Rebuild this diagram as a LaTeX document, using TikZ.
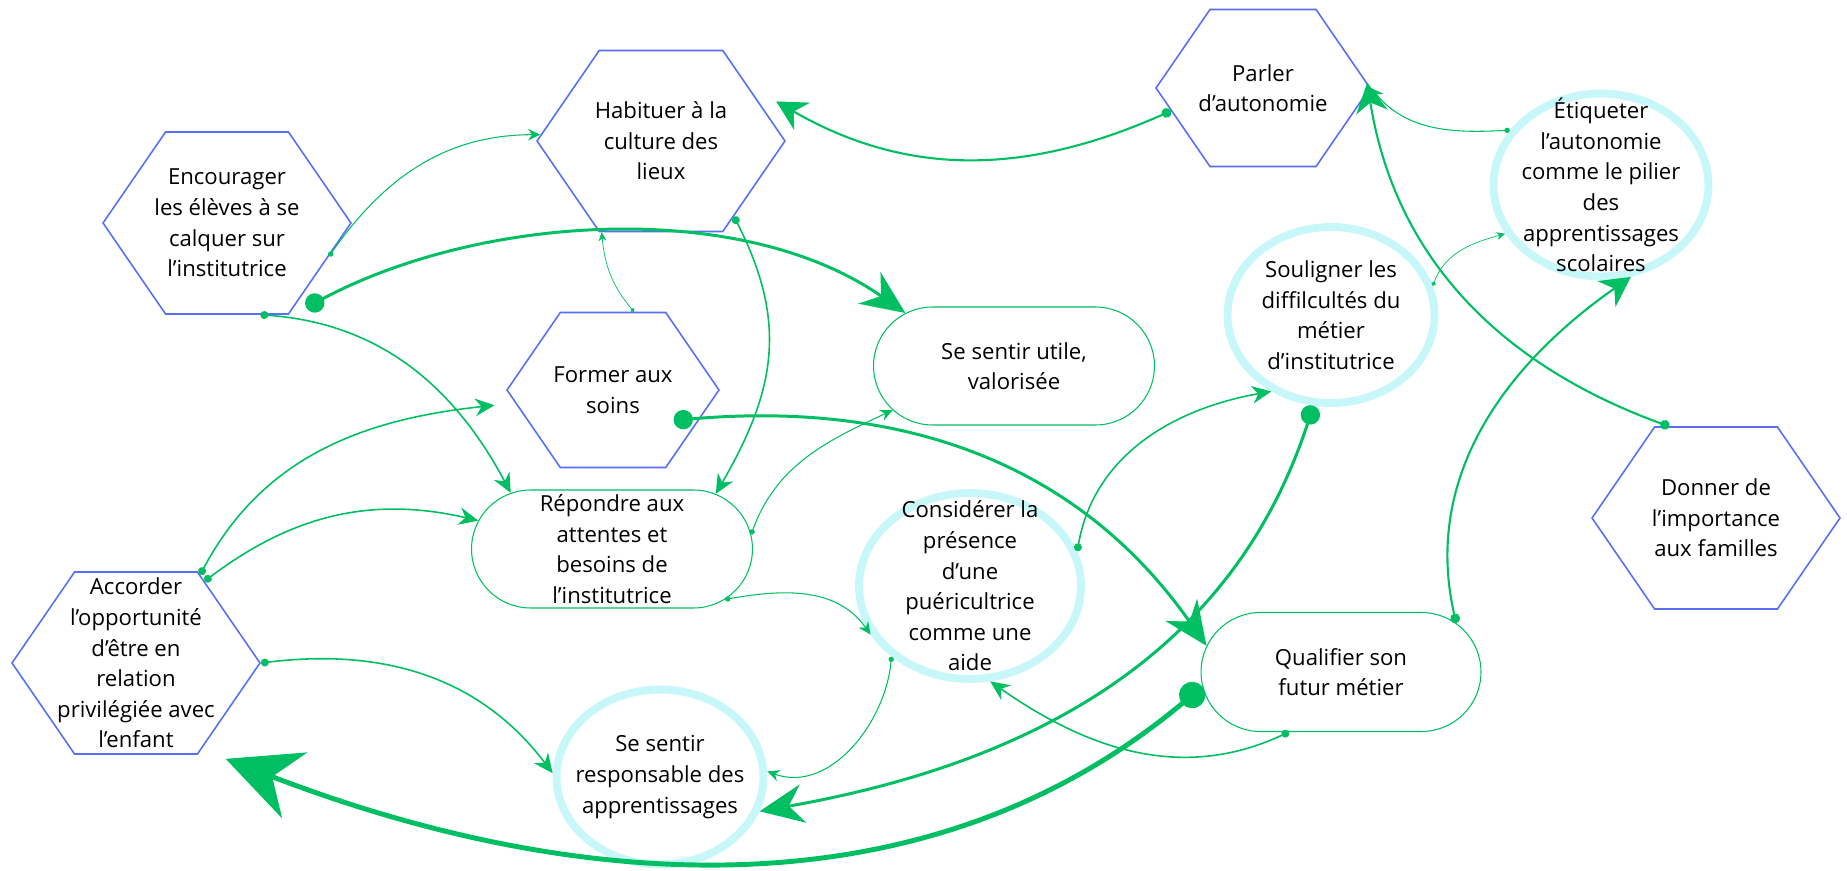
\documentclass[tikz,border=0pt]{standalone}
\usepackage{fontspec}
\setmainfont{Open Sans}
\usetikzlibrary{arrows.meta,shapes.geometric,shapes.misc,shapes.symbols}
\definecolor{hexblue}{RGB}{88,110,245}
\definecolor{linkgreen}{RGB}{0,191,99}
\definecolor{ringcyan}{RGB}{200,247,249}
\tikzset{
  label-text/.style={
    align=center,
    text=black,
    font=\fontsize{12.6}{17.4}\selectfont
  },
  hex-node/.style={
    label-text,
    signal,
    signal to=east and west,
    signal pointer angle=111,
    draw=hexblue,
    line width=0.9pt,
    inner xsep=-0.4cm,
    inner ysep=0pt,
    minimum width=4.96cm,
    minimum height=3.64cm
  },
  pill-node/.style={
    label-text,
    rounded rectangle,
    draw=linkgreen,
    line width=0.6pt,
    inner sep=0pt,
    minimum width=5.62cm,
    minimum height=2.36cm
  },
  ring-node/.style={
    label-text,
    ellipse,
    draw=ringcyan,
    line width=4.5pt,
    inner sep=-0.6cm
  },
  link-hair/.style={linkgreen, line width=0.4pt,
    arrows={Circle[length=2.5pt]-Stealth[length=5pt,width=4.5pt]}},
  link-thin/.style={linkgreen, line width=0.6pt,
    arrows={Circle[length=3pt]-Stealth[length=7pt,width=6.5pt]}},
  link-mid/.style={linkgreen, line width=0.9pt,
    arrows={Circle[length=4.5pt]-Stealth[length=11pt,width=10pt]}},
  link-strong/.style={linkgreen, line width=1.2pt,
    arrows={Circle[length=5.5pt]-Stealth[length=17pt,width=18pt]}},
  link-thick/.style={linkgreen, line width=1.7pt,
    arrows={Circle[length=11pt]-Stealth[length=25pt,width=22pt]}},
  link-heavy/.style={linkgreen, line width=2.8pt,
    arrows={Circle[length=15pt]-Stealth[length=42pt,width=40pt]}}
}

\begin{document}
\begin{tikzpicture}[x=0.02cm, y=0.02cm]
  \useasboundingbox (0,0) rectangle (1847,870);

  \node[hex-node] (enc) at (227,647) {Encourager\\les élèves à se\\calquer sur\\l’institutrice};
  \node[hex-node, minimum height=3.62cm] (hab) at (661,729) {Habituer à la\\culture des\\lieux};
  \node[hex-node, minimum width=4.24cm, minimum height=3.1cm] (form) at (613,480) {Former aux\\soins};
  \node[hex-node, minimum width=4.28cm, minimum height=3.14cm] (parl) at (1263,782) {Parler\\d’autonomie};
  \node[hex-node] (donn) at (1716,352) {Donner de\\l’importance\\aux familles};
  \node[hex-node] (acc) at (136,207) {Accorder\\l’opportunité\\d’être en\\relation\\privilégiée avec\\l’enfant};

  \node[pill-node] (utile) at (1014,504) {Se sentir utile,\\valorisée};
  \node[pill-node] (rep) at (612,321) {Répondre aux\\attentes et\\besoins de\\l’institutrice};
  \node[pill-node, minimum width=5.6cm, minimum height=2.38cm] (qual) at (1341,198) {Qualifier son\\futur métier};

  \node[ring-node, minimum width=4.3cm, minimum height=3.66cm] (etiq) at (1601,685) {Étiqueter\\l’autonomie\\comme le pilier\\des\\apprentissages\\scolaires};
  \node[ring-node, minimum width=4.14cm, minimum height=3.52cm] (soul) at (1331,555) {Souligner les\\diffilcultés du\\métier\\d’institutrice};
  \node[ring-node, minimum width=4.44cm, minimum height=3.72cm] (cons) at (970,284) {Considérer la\\présence\\d’une\\puéricultrice\\comme une\\aide};
  \node[ring-node, minimum width=4.14cm, minimum height=3.5cm] (resp) at (660,93) {Se sentir\\responsable des\\apprentissages};

  \draw[link-thin] (enc.-18) to[out=55, in=180] (hab.177);
  \draw[link-thick] ([shift={(0,-18)}]enc.-40) to[out=28, in=145, looseness=0.85] (utile.154);
  \draw[link-mid] (enc.-70) to[out=-4, in=118] (rep.151);
  \draw[link-mid] (hab.-46) to[out=-63, in=60, looseness=1.1] (rep.28);
  \draw[link-hair] (form.75) to[out=130, in=-85] (hab.-123);
  \draw[link-thick] ([shift={(-24,2)}]form.-21) to[out=5, in=125] (qual.169);
  \draw[link-strong] (parl.-166) to[out=-156, in=-30] ([shift={(12,8)}]hab.17);
  \draw[link-thin] (etiq.149) to[out=183, in=-50] (parl.east);
  \draw[link-strong] (donn.117) to[out=160, in=-81] (parl.3);
  \draw[link-hair] (soul.16) to[out=70, in=195] (etiq.-153);
  \draw[link-strong] (qual.23) to[out=103, in=-145] (etiq.-72);
  \draw[link-thick] (soul.-101) to[out=-108, in=10] (resp.-19);
  \draw[link-heavy] (qual.186) to[out=-140, in=-21, looseness=0.96] ([shift={(21,-14)}]acc.-50);
  \draw[link-mid] (acc.54) to[out=62, in=186] ([shift={(-22,0)}]form.-171);
  \draw[link-mid] (acc.50) to[out=37, in=167] (rep.168);
  \draw[link-mid] (acc.east) to[out=7, in=127] (resp.178);
  \draw[link-thin] (rep.6) to[out=70, in=205] (utile.-160);
  \draw[link-thin] (rep.-24) to[out=10, in=125] (cons.-154);
  \draw[link-mid] (cons.18) to[out=80, in=190] (soul.-128);
  \draw[link-thin] (cons.-138) to[out=-95, in=-20] (resp.3);
  \draw[link-mid] (qual.-131) to[out=-155, in=-35] (cons.-78);
\end{tikzpicture}
\end{document}
